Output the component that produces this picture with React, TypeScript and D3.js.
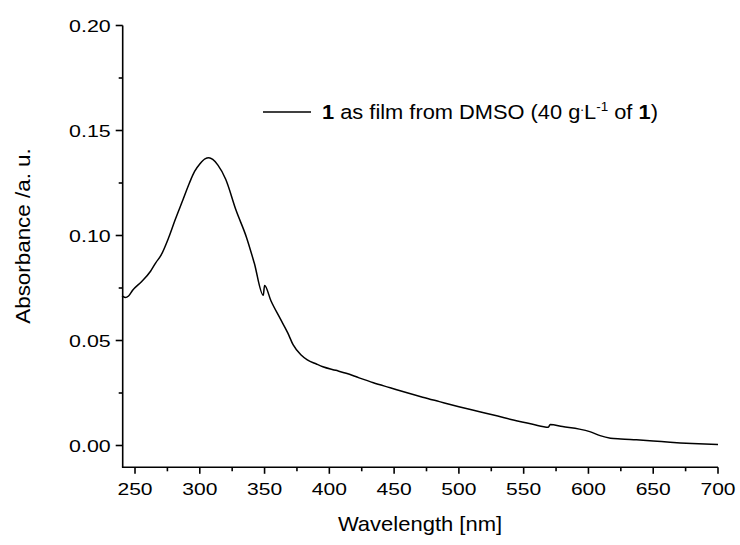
import React from "react";
import * as d3 from "d3";

const wavelength: number[] = [
  240, 242.5, 245, 248, 255, 262, 266, 270, 276, 281, 287, 292, 296, 300, 304, 307, 310, 314, 320, 328,
  336, 342, 349, 350, 355, 362, 368, 372, 378, 383, 390, 395, 405, 413, 423, 434, 447, 460, 472, 485,
  500, 516, 530, 542, 557, 569, 570.5, 580, 593, 601, 609, 617, 625, 637, 650, 663, 680, 700,
];
const absorbance: number[] = [
  0.0712, 0.0705, 0.0712, 0.0738, 0.078, 0.083, 0.087, 0.0905, 0.099, 0.1075, 0.117, 0.125, 0.1305, 0.134,
  0.1365, 0.137, 0.1362, 0.1335, 0.1268, 0.112, 0.0992, 0.087, 0.0715, 0.0762, 0.0688, 0.0605, 0.0535, 0.048,
  0.0432, 0.0408, 0.0388, 0.0375, 0.0358, 0.0344, 0.0322, 0.0299, 0.0275, 0.0251, 0.023, 0.0209, 0.0185,
  0.0161, 0.014, 0.0121, 0.0101, 0.0087, 0.01, 0.009, 0.0078, 0.0066, 0.0047, 0.0035, 0.0031, 0.0027,
  0.0022, 0.0016, 0.001, 0.0005,
];
const xTicks: number[] = [250, 300, 350, 400, 450, 500, 550, 600, 650, 700];
const xMinorTicks: number[] = [275, 325, 375, 425, 475, 525, 575, 625, 675];
const yTicks: number[] = [0, 0.05, 0.1, 0.15, 0.2];
const yMinorTicks: number[] = [0.025, 0.075, 0.125, 0.175];

const FONT = "'Liberation Sans', Arial, sans-serif";

function SText(props: {
  x: number;
  y: number;
  sx: number;
  size: number;
  anchor?: string;
  rotate?: number;
  children: React.ReactNode;
}) {
  const { x, y, sx, size, anchor, rotate, children } = props;
  return (
    <g transform={`translate(${x},${y}) rotate(${rotate ?? 0}) scale(${sx},1)`}>
      <text x={0} y={0} fontSize={size} textAnchor={anchor ?? "start"} fill="#000">
        {children}
      </text>
    </g>
  );
}

export default function App() {
  const x = d3.scaleLinear().domain([240.5, 700]).range([122.7, 718]);
  const y = d3.scaleLinear().domain([0, 0.2]).range([445.5, 25.5]);
  const axisY = 467.3;
  const axisX = 122.7;
  const data = wavelength.map((w, i) => [w, absorbance[i]] as [number, number]);
  const line = d3
    .line<[number, number]>()
    .x((d) => x(d[0]))
    .y((d) => y(d[1]))
    .curve(d3.curveMonotoneX);

  return (
    <svg
      width={740}
      height={545}
      style={{ position: "absolute", left: 0, top: 0, background: "#fff" }}
      fontFamily={FONT}
    >
      <rect width={740} height={545} fill="#fff" />
      <line x1={axisX} y1={y(0.2)} x2={axisX} y2={axisY} stroke="#000" strokeWidth={1.6} />
      <line x1={axisX - 0.8} y1={axisY} x2={x(700)} y2={axisY} stroke="#000" strokeWidth={1.6} />
      {yTicks.map((t) => (
        <g key={"y" + t}>
          <line x1={axisX - 7} x2={axisX} y1={y(t)} y2={y(t)} stroke="#000" strokeWidth={1.6} />
          <SText x={axisX - 12} y={y(t) + 6} sx={1.26} size={17} anchor="end">
            {t.toFixed(2)}
          </SText>
        </g>
      ))}
      {yMinorTicks.map((t) => (
        <line key={"ym" + t} x1={axisX - 4} x2={axisX} y1={y(t)} y2={y(t)} stroke="#000" strokeWidth={1.6} />
      ))}
      {xTicks.map((t) => (
        <g key={"x" + t}>
          <line x1={x(t)} x2={x(t)} y1={axisY} y2={axisY + 6.5} stroke="#000" strokeWidth={1.6} />
          <SText x={x(t)} y={axisY + 28} sx={1.24} size={17} anchor="middle">
            {t}
          </SText>
        </g>
      ))}
      {xMinorTicks.map((t) => (
        <line key={"xm" + t} x1={x(t)} x2={x(t)} y1={axisY} y2={axisY + 4} stroke="#000" strokeWidth={1.6} />
      ))}
      <path d={line(data) ?? ""} fill="none" stroke="#000" strokeWidth={1.5} strokeLinejoin="round" />
      <SText x={420} y={531} sx={1.1} size={20} anchor="middle">
        Wavelength [nm]
      </SText>
      <SText x={30} y={236} sx={1.12} size={20} anchor="middle" rotate={-90}>
        Absorbance /a. u.
      </SText>
      <line x1={263} x2={311} y1={112} y2={112} stroke="#000" strokeWidth={1.5} />
      <SText x={322} y={118.5} sx={1.12} size={19.5}>
        <tspan fontWeight="bold">1</tspan>
        <tspan> as film from DMSO (40 g</tspan>
        <tspan fontSize={12} dy={-8}>.</tspan>
        <tspan dy={8}>L</tspan>
        <tspan fontSize={12} dy={-8}>-1</tspan>
        <tspan dy={8}> of </tspan>
        <tspan fontWeight="bold">1</tspan>
        <tspan>)</tspan>
      </SText>
    </svg>
  );
}
